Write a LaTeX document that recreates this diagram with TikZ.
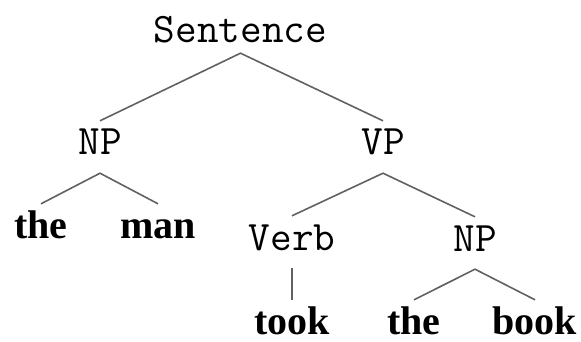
\documentclass[tikz,border=0pt]{standalone}
\usepackage{fontspec}
\newfontfamily\wordfont{Liberation Serif}
\begin{document}
\begin{tikzpicture}[x=1pt,y=-1pt,
  box/.style={anchor=base, inner xsep=2pt, inner ysep=6pt,
              text height=28pt, text depth=12pt},
  cat/.style={box, font=\fontsize{42}{42}\selectfont\ttfamily},
  word/.style={box, font=\fontsize{40}{40}\selectfont\wordfont\bfseries},
  leaf/.style={word, text depth=1pt},
  branch/.style={draw=black!62, line width=1.6pt}]
\useasboundingbox (0,0) rectangle (581,342);

% categories
\node[cat, text depth=4pt] (s)   at (240.5,43) {Sentence};
\node[cat]  (np1)  at (100,155) {NP};
\node[cat]  (vp)   at (383,155) {VP};
\node[cat]  (verb) at (292,250) {Verb};
\node[cat]  (np2)  at (475,251) {NP};

% words
\node[word] (the1) at (41,238)  {the};
\node[word] (man)  at (158,238) {man};
\node[leaf] (took) at (292,334) {took};
\node[leaf] (the2) at (414,334) {the};
\node[leaf] (book) at (535,334) {book};

% branches
\draw[branch] (np1.north) -- (s.south) -- (vp.north);
\draw[branch] (the1.north) -- (np1.south) -- (man.north);
\draw[branch] (verb.north) -- (vp.south) -- (np2.north);
\draw[branch] (verb.south) -- (took.north);
\draw[branch] (the2.north) -- (np2.south) -- (book.north);
\end{tikzpicture}
\end{document}
